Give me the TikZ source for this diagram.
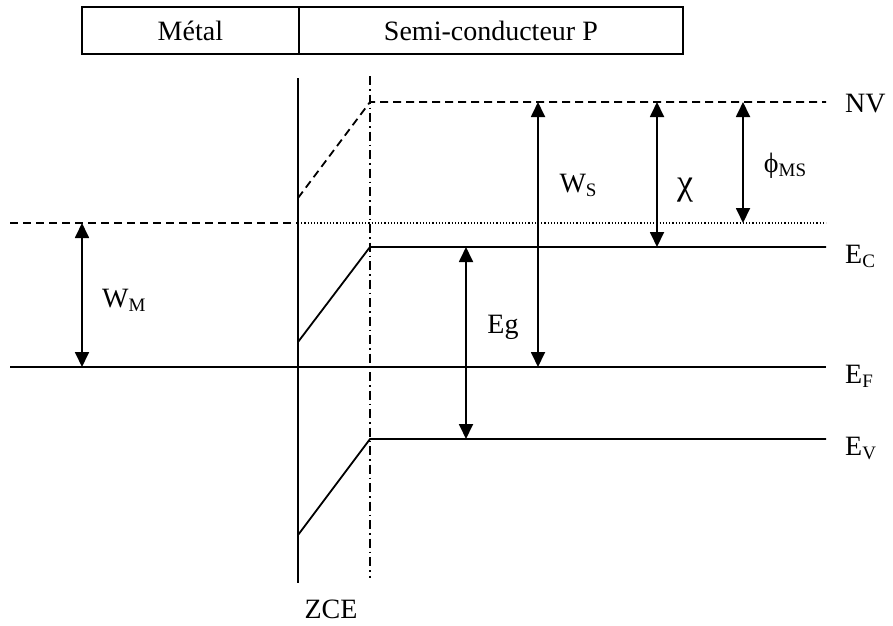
\documentclass[tikz,border=0pt]{standalone}
\usepackage{fontspec}
\setmainfont{Liberation Serif}
\usetikzlibrary{arrows.meta}
\newcommand\lsub[1]{\raisebox{-4pt}{\fontsize{19}{19}\selectfont #1}}
\begin{document}
\begin{tikzpicture}[x=1pt,y=-1pt,
  every node/.style={font=\fontsize{28}{30}\selectfont, inner sep=0pt},
  band/.style={line width=1.8pt},
  vac/.style={line width=1.8pt, dash pattern=on 8pt off 5pt},
  dotl/.style={line width=1.2pt, dash pattern=on 1.2pt off 2pt},
  zce/.style={line width=1.8pt, dash pattern=on 9pt off 4pt on 1.5pt off 4pt},
  dim/.style={line width=1.8pt, {Triangle[length=15pt,width=14pt]}-{Triangle[length=15pt,width=14pt]}},
  boxlabel/.style={draw, line width=1.8pt, minimum height=47pt, anchor=west}]
\useasboundingbox (0,0) rectangle (893,625);
% header boxes
\node[boxlabel, minimum width=217pt] (metal) at (81,30.5) {Métal};
\node[boxlabel, minimum width=384pt] (sc) at (298,30.5) {Semi-conducteur P};
% coordinates
\coordinate (mtop) at (298,78);
\coordinate (mbot) at (298,583);
\coordinate (ztop) at (370,76);
\coordinate (zbot) at (370,578);
\coordinate (nv0) at (298,198);
\coordinate (nv1) at (370,102);
\coordinate (nv2) at (826,102);
\coordinate (wm0) at (10,223);
\coordinate (wm1) at (298,223);
\coordinate (wm2) at (826,223);
\coordinate (ec0) at (298,342);
\coordinate (ec1) at (370,247);
\coordinate (ec2) at (826,247);
\coordinate (ef0) at (10,367);
\coordinate (ef2) at (826,367);
\coordinate (ev0) at (298,535);
\coordinate (ev1) at (370,439);
\coordinate (ev2) at (826,439);
% verticals
\draw[band] (mtop) -- (mbot);
\draw[zce] (ztop) -- (zbot);
% levels
\draw[vac] (nv0) -- (nv1) -- (nv2);
\draw[vac] (wm0) -- (wm1);
\draw[dotl] (wm1) -- (wm2);
\draw[band] (ec0) -- (ec1) -- (ec2);
\draw[band] (ef0) -- (ef2);
\draw[band] (ev0) -- (ev1) -- (ev2);
% dimension arrows
\coordinate (a1) at (82,223); \coordinate (b1) at (82,367);
\coordinate (a2) at (466,247); \coordinate (b2) at (466,439);
\coordinate (a3) at (538,102); \coordinate (b3) at (538,367);
\coordinate (a4) at (657,102); \coordinate (b4) at (657,247);
\coordinate (a5) at (743,102); \coordinate (b5) at (743,223);
\draw[dim] (a1) -- (b1);
\draw[dim] (a2) -- (b2);
\draw[dim] (a3) -- (b3);
\draw[dim] (a4) -- (b4);
\draw[dim] (a5) -- (b5);
% labels
\node[anchor=west] (lwm) at (102,300) {W\lsub{M}};
\node (leg) at (503,327) {Eg};
\node (lws) at (578,185) {W\lsub{S}};
\node[font=\fontsize{36}{36}\selectfont] (lchi) at (685,190) {χ};
\node (lphi) at (785,166) {ϕ\lsub{MS}};
\node[anchor=west] (lnv) at (845,104) {NV};
\node[anchor=west] (lec) at (845,256) {E\lsub{C}};
\node[anchor=west] (lef) at (845,376) {E\lsub{F}};
\node[anchor=west] (lev) at (845,448) {E\lsub{V}};
\node[anchor=base] (lzce) at (331,618) {ZCE};
\end{tikzpicture}
\end{document}
